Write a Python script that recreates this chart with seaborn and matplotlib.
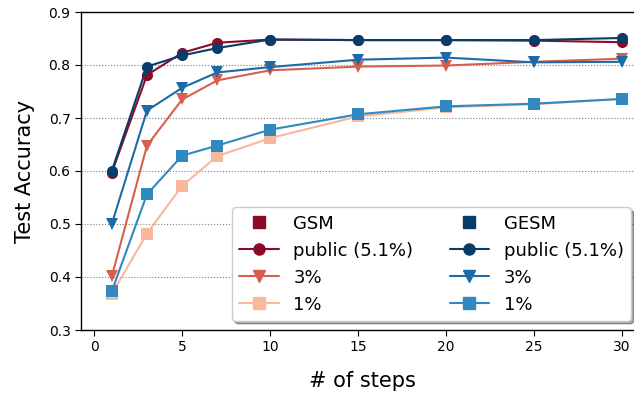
import pandas as pd
import seaborn as sns
import matplotlib.pyplot as plt
from matplotlib.lines import Line2D

# dados
steps = [1, 3, 5, 7, 10, 15, 20, 25, 30]
gsm_public = [0.597, 0.781, 0.823, 0.842, 0.848, 0.847, 0.847, 0.846, 0.843]
gsm_3 = [0.401, 0.648, 0.735, 0.771, 0.790, 0.797, 0.799, 0.806, 0.812]
gsm_1 = [0.368, 0.482, 0.572, 0.628, 0.662, 0.703, 0.720, 0.726, 0.736]
gesm_public = [0.600, 0.797, 0.818, 0.832, 0.848, 0.847, 0.847, 0.847, 0.851]
gesm_3 = [0.500, 0.714, 0.757, 0.786, 0.796, 0.810, 0.814, 0.805, 0.806]
gesm_1 = [0.373, 0.556, 0.629, 0.648, 0.678, 0.707, 0.722, 0.727, 0.736]
labels = ['public (5.1%)', '3%', '1%']

gsm_colors = ['#8b0c29', '#d6604d', '#f7b89c']
gesm_colors = ['#083d69', '#1d6aa8', '#3189c0']
markers = ['o', 'v', 's']

sns.set_style("ticks")
plt.rcParams['text.color'] = 'black'
plt.rcParams['axes.labelcolor'] = 'black'
fig = plt.figure(figsize=(6.34, 3.93), dpi=100)
ax = fig.add_axes([81 / 634, 63 / 393, 562 / 634, 318 / 393])

series = [(gsm_1, gsm_colors[2], 's'), (gsm_3, gsm_colors[1], 'v'), (gsm_public, gsm_colors[0], 'o'),
          (gesm_1, gesm_colors[2], 's'), (gesm_3, gesm_colors[1], 'v'), (gesm_public, gesm_colors[0], 'o')]
for vals, c, m in series:
    df = pd.DataFrame({'step': steps, 'acc': vals})
    sns.lineplot(data=df, x='step', y='acc', marker=m, markersize=8, color=c,
                 linewidth=1.5, markeredgewidth=0, ax=ax)

ax.set_xlim(-0.75, 31.2)
ax.set_ylim(0.3, 0.9)
ax.set_xticks([0, 5, 10, 15, 20, 25, 30])
ax.set_yticks([0.3, 0.4, 0.5, 0.6, 0.7, 0.8, 0.9])
ax.tick_params(labelsize=10, length=4, colors='black')
ax.yaxis.grid(True, linestyle=':', color='gray', linewidth=0.8)
for s in ax.spines.values():
    s.set_color('black')
    s.set_linewidth(1.0)
ax.set_xlabel('# of steps', fontsize=15, labelpad=12)
ax.set_ylabel('Test Accuracy', fontsize=15, labelpad=10)

handles = [Line2D([], [], linestyle='none', marker='s', color=gsm_colors[0], markersize=8)]
handles += [Line2D([], [], color=gsm_colors[i], marker=markers[i], markersize=8, linewidth=1.5) for i in range(3)]
handles += [Line2D([], [], linestyle='none', marker='s', color=gesm_colors[0], markersize=8)]
handles += [Line2D([], [], color=gesm_colors[i], marker=markers[i], markersize=8, linewidth=1.5) for i in range(3)]
leg_labels = ['GSM'] + labels + ['GESM'] + labels
leg = ax.legend(handles, leg_labels, ncol=2, fontsize=13, loc='lower right',
                bbox_to_anchor=(559 / 562, 0.0), frameon=True, shadow=True, fancybox=True,
                handlelength=2.2, columnspacing=2.0, labelspacing=0.5)
leg.get_frame().set_edgecolor('#cccccc')

plt.savefig("out.png", dpi=100)
